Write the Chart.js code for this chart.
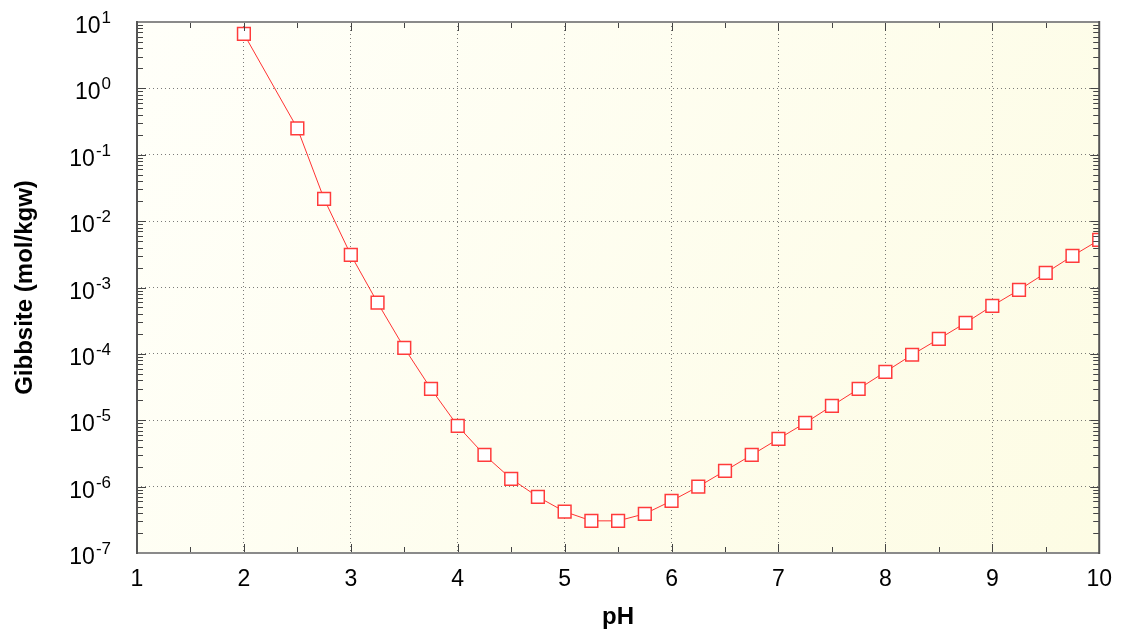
<!DOCTYPE html>
<html>
<head>
<meta charset="utf-8">
<script src="https://cdn.jsdelivr.net/npm/chart.js@4/dist/chart.umd.min.js"></script>
<style>
  html, body { margin: 0; padding: 0; background: #ffffff; }
  canvas { display: block; }
</style>
</head>
<body>
<canvas id="c" width="1125" height="641"></canvas>
<script>
// ---- data ----
const phValues = [2, 2.5, 2.75, 3, 3.25, 3.5, 3.75, 4, 4.25, 4.5, 4.75, 5, 5.25, 5.5, 5.75, 6,
                  6.25, 6.5, 6.75, 7, 7.25, 7.5, 7.75, 8, 8.25, 8.5, 8.75, 9, 9.25, 9.5, 9.75, 10];
const gibbsite = [6.6, 0.25, 0.0216, 0.0031, 5.9e-4, 1.23e-4, 2.97e-5, 8.2e-6, 3.0e-6, 1.31e-6,
                  7.0e-7, 4.2e-7, 3.05e-7, 3.05e-7, 3.9e-7, 6.1e-7, 1.0e-6, 1.73e-6, 3.0e-6, 5.25e-6,
                  9.1e-6, 1.65e-5, 2.97e-5, 5.37e-5, 9.7e-5, 1.68e-4, 2.93e-4, 5.3e-4, 9.2e-4,
                  1.66e-3, 2.99e-3, 5.2e-3];
const xTickLabels = [1, 2, 3, 4, 5, 6, 7, 8, 9, 10];
const yExponents = [-7, -6, -5, -4, -3, -2, -1, 0, 1];
const xTitle = 'pH';
const yTitle = 'Gibbsite (mol/kgw)';

const FONT = '"Liberation Sans", Arial, sans-serif';

const decor = {
  id: 'decor',
  beforeDraw(chart) {
    const { ctx, chartArea: a } = chart;
    const g = ctx.createLinearGradient(a.left, a.top, a.right, a.bottom);
    g.addColorStop(0, '#fffff9');
    g.addColorStop(1, '#fdfce4');
    ctx.save();
    ctx.fillStyle = g;
    ctx.fillRect(a.left, a.top, a.right - a.left, a.bottom - a.top);
    ctx.restore();
  },
  afterDraw(chart) {
    const { ctx, chartArea: a, scales } = chart;
    const xs = scales.x, ys = scales.y;
    ctx.save();
    // tick marks
    ctx.strokeStyle = '#444';
    ctx.lineWidth = 1;
    ctx.beginPath();
    for (let i = 0; i < xTickLabels.length; i++) {
      const v = xTickLabels[i];
      const px = Math.round(xs.getPixelForValue(v)) + 0.5;
      ctx.moveTo(px, a.bottom); ctx.lineTo(px, a.bottom - 9);
      ctx.moveTo(px, a.top); ctx.lineTo(px, a.top + 9);
      if (i < xTickLabels.length - 1) {
        const pm = Math.round(xs.getPixelForValue(v + 0.5)) + 0.5;
        ctx.moveTo(pm, a.bottom); ctx.lineTo(pm, a.bottom - 6);
        ctx.moveTo(pm, a.top); ctx.lineTo(pm, a.top + 6);
      }
    }
    for (let i = 0; i < yExponents.length; i++) {
      const e = yExponents[i];
      const py = Math.round(ys.getPixelForValue(Math.pow(10, e))) + 0.5;
      ctx.moveTo(a.left, py); ctx.lineTo(a.left + 9, py);
      ctx.moveTo(a.right, py); ctx.lineTo(a.right - 9, py);
      if (i < yExponents.length - 1) {
        for (let k = 2; k <= 9; k++) {
          const pm = Math.round(ys.getPixelForValue(k * Math.pow(10, e))) + 0.5;
          ctx.moveTo(a.left, pm); ctx.lineTo(a.left + 6, pm);
          ctx.moveTo(a.right, pm); ctx.lineTo(a.right - 6, pm);
        }
      }
    }
    ctx.stroke();
    // frame
    ctx.lineWidth = 2;
    ctx.strokeStyle = '#8a8a8a';
    ctx.beginPath();
    ctx.moveTo(a.left, a.top); ctx.lineTo(a.right, a.top);
    ctx.moveTo(a.left, a.bottom); ctx.lineTo(a.right, a.bottom);
    ctx.stroke();
    ctx.strokeStyle = '#555';
    ctx.beginPath();
    ctx.moveTo(a.left, a.top - 1); ctx.lineTo(a.left, a.bottom + 1);
    ctx.moveTo(a.right, a.top - 1); ctx.lineTo(a.right, a.bottom + 1);
    ctx.stroke();

    // y tick labels 10^n
    ctx.fillStyle = '#000';
    ctx.textBaseline = 'alphabetic';
    for (const e of yExponents) {
      const py = ys.getPixelForValue(Math.pow(10, e));
      const expStr = e < 0 ? '-' + Math.abs(e) : String(e);
      ctx.font = '17px ' + FONT;
      const ew = ctx.measureText(expStr).width;
      const right = 111;
      ctx.textAlign = 'left';
      ctx.fillText(expStr, right - ew, py + 1);
      ctx.font = '23px ' + FONT;
      ctx.textAlign = 'right';
      ctx.fillText('10', right - ew - 1, py + 11);
    }
    ctx.restore();
  }
};

new Chart(document.getElementById('c'), {
  type: 'line',
  data: {
    datasets: [{
      data: phValues.map((x, i) => ({ x: x, y: gibbsite[i] })),
      borderColor: '#ff3333',
      borderWidth: 1,
      pointStyle: 'rect',
      pointRadius: 9,
      pointHoverRadius: 9,
      pointBorderWidth: 1.5,
      pointBorderColor: '#ff3b3b',
      pointBackgroundColor: '#ffffff',
      tension: 0
    }]
  },
  plugins: [decor],
  options: {
    responsive: false,
    animation: false,
    devicePixelRatio: 1,
    layout: { padding: { top: 22, right: 25, left: 0, bottom: 0 } },
    plugins: { legend: { display: false }, tooltip: { enabled: false } },
    scales: {
      x: {
        type: 'linear',
        min: 1, max: 10,
        afterBuildTicks: (s) => { s.ticks = xTickLabels.map(v => ({ value: v })); },
        afterFit: (s) => { s.height = 88; },
        ticks: {
          color: '#000',
          font: { family: FONT, size: 23 },
          padding: 13,
          maxRotation: 0,
          autoSkip: false,
          callback: (v) => String(v)
        },
        grid: {
          color: 'rgba(90,90,90,0.8)',
          lineWidth: 1,
          drawTicks: false
        },
        border: { display: false, dash: [1, 3] },
        title: {
          display: true,
          text: xTitle,
          color: '#000',
          font: { family: FONT, size: 24, weight: 'bold' },
          padding: { top: 0, bottom: 9 }
        }
      },
      y: {
        type: 'logarithmic',
        min: 1e-7, max: 10,
        afterBuildTicks: (s) => { s.ticks = yExponents.map(e => ({ value: Math.pow(10, e), major: true })); },
        afterFit: (s) => { s.width = 137; },
        ticks: { display: false },
        grid: {
          color: 'rgba(90,90,90,0.8)',
          lineWidth: 1,
          drawTicks: false
        },
        border: { display: false, dash: [1, 3] },
        title: {
          display: true,
          text: yTitle,
          color: '#000',
          font: { family: FONT, size: 24, weight: 'bold' },
          padding: { top: 11, bottom: 0 }
        }
      }
    }
  }
});
</script>
</body>
</html>
